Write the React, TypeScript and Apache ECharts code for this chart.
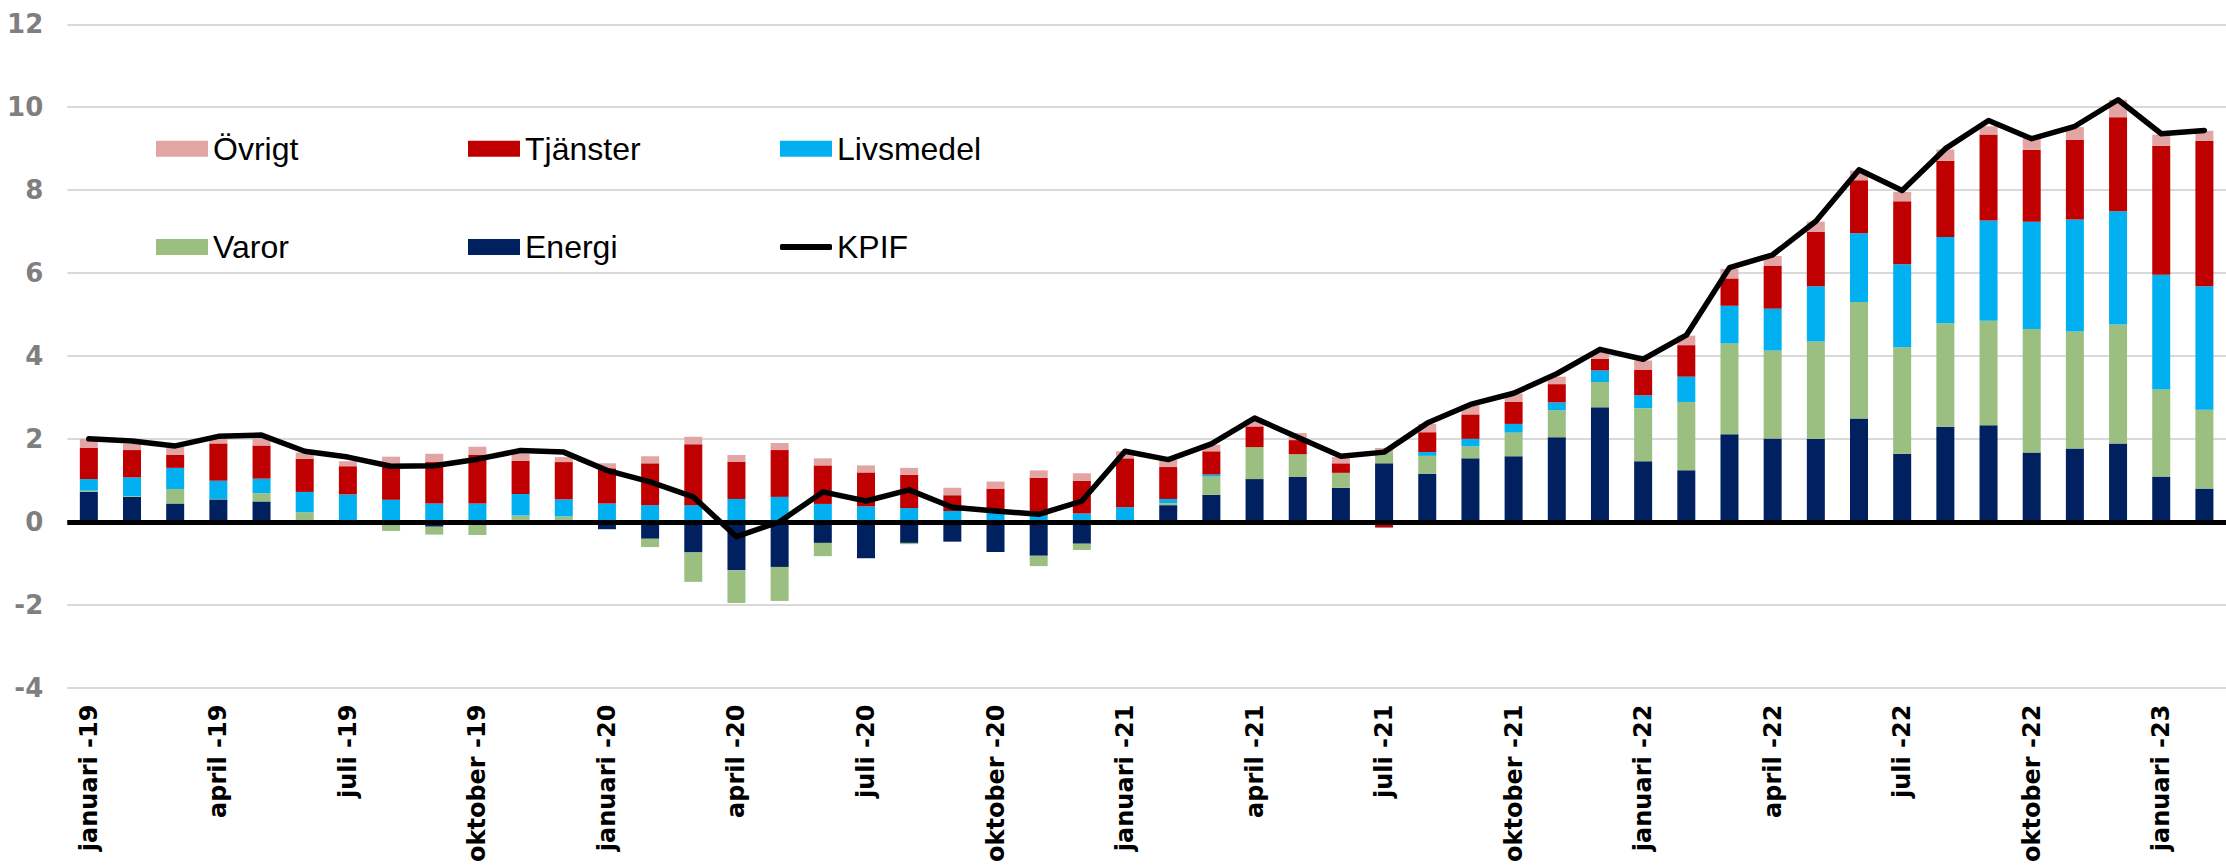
import React, { useEffect, useRef } from "react";
import * as echarts from "echarts";

const monthNames = ["januari", "februari", "mars", "april", "maj", "juni", "juli", "augusti", "september", "oktober", "november", "december"];
const years = ["19", "20", "21", "22", "23"];
const monthCount = 50;

const categories: string[] = [];
for (const y of years) {
  for (const m of monthNames) {
    if (categories.length < monthCount) categories.push(`${m} -${y}`);
  }
}

const energi = [0.72, 0.60, 0.44, 0.54, 0.49, 0.02, 0.00, -0.05, -0.12, -0.02, 0.05, 0.05,
  -0.18, -0.41, -0.74, -1.17, -1.09, -0.51, -0.88, -0.51, -0.48, -0.73, -0.82, -0.53,
  0.00, 0.40, 0.65, 1.03, 1.08, 0.82, 1.41, 1.16, 1.53, 1.58, 2.04, 2.76,
  1.46, 1.24, 2.11, 2.01, 2.00, 2.49, 1.64, 2.29, 2.33, 1.67, 1.77, 1.89,
  1.09, 0.80];
const varor = [0.03, 0.02, 0.35, 0.01, 0.20, 0.21, 0.04, -0.17, -0.19, -0.30, 0.10, 0.08,
  0.00, -0.20, -0.71, -0.79, -0.82, -0.32, 0.00, -0.03, 0.00, 0.00, -0.25, -0.15,
  0.00, 0.05, 0.44, 0.77, 0.55, 0.36, 0.27, 0.43, 0.29, 0.57, 0.65, 0.61,
  1.28, 1.65, 2.19, 2.12, 2.35, 2.81, 2.57, 2.50, 2.52, 2.98, 2.82, 2.87,
  2.10, 1.90];
const livsmedel = [0.28, 0.45, 0.51, 0.44, 0.35, 0.49, 0.62, 0.53, 0.44, 0.44, 0.52, 0.41,
  0.44, 0.40, 0.40, 0.55, 0.60, 0.43, 0.37, 0.33, 0.26, 0.25, 0.15, 0.20,
  0.35, 0.10, 0.05, 0.00, -0.08, 0.00, 0.00, 0.09, 0.18, 0.21, 0.19, 0.28,
  0.31, 0.61, 0.91, 1.01, 1.33, 1.66, 2.00, 2.08, 2.42, 2.59, 2.70, 2.73,
  2.77, 2.98];
const tjanster = [0.75, 0.66, 0.31, 0.90, 0.80, 0.80, 0.68, 0.87, 1.00, 1.18, 0.80, 0.90,
  0.85, 1.01, 1.47, 0.90, 1.13, 0.93, 0.82, 0.80, 0.38, 0.55, 0.91, 0.79,
  1.18, 0.77, 0.56, 0.50, 0.34, 0.23, -0.14, 0.48, 0.59, 0.53, 0.44, 0.28,
  0.62, 0.76, 0.66, 1.04, 1.31, 1.28, 1.52, 1.84, 2.07, 1.73, 1.92, 2.27,
  3.11, 3.51];
const ovrigt = [0.22, 0.15, 0.20, 0.12, 0.23, 0.15, 0.12, 0.17, 0.20, 0.19, 0.17, 0.12,
  0.12, 0.17, 0.18, 0.16, 0.17, 0.17, 0.17, 0.17, 0.18, 0.17, 0.18, 0.18,
  0.17, 0.17, 0.16, 0.17, 0.17, 0.15, 0.10, 0.20, 0.22, 0.20, 0.18, 0.17,
  0.22, 0.23, 0.23, 0.23, 0.25, 0.23, 0.23, 0.27, 0.20, 0.28, 0.31, 0.42,
  0.27, 0.24];
const kpif = [2.00, 1.95, 1.83, 2.06, 2.09, 1.70, 1.56, 1.34, 1.35, 1.51, 1.72, 1.68,
  1.24, 0.96, 0.60, -0.36, 0.00, 0.72, 0.50, 0.77, 0.35, 0.26, 0.18, 0.50,
  1.70, 1.50, 1.88, 2.50, 2.04, 1.58, 1.68, 2.38, 2.83, 3.10, 3.57, 4.16,
  3.92, 4.50, 6.13, 6.44, 7.25, 8.49, 7.99, 9.00, 9.68, 9.24, 9.54, 10.18,
  9.36, 9.44];

const yTicks = { min: -4, max: 12, interval: 2 };

const colors = {
  Energi: "#002060",
  Varor: "#9BBF81",
  Livsmedel: "#00B0F0",
  "Tjänster": "#C00000",
  "Övrigt": "#E3A4A4",
  KPIF: "#000000",
};

export default function App() {
  const ref = useRef<HTMLDivElement>(null);
  useEffect(() => {
    if (!ref.current) return;
    const chart = echarts.init(ref.current, undefined, { renderer: "svg" });
    const barSeries = (name: string, data: number[]) => ({
      name,
      type: "bar",
      stack: "total",
      data,
      barWidth: 18,
      itemStyle: { color: (colors as any)[name] },
      emphasis: { disabled: true },
    });
    const legendText = { fontFamily: "Liberation Sans, Arial, sans-serif", fontSize: 32, color: "#000" };
    const mkLegend = (name: string, left: number, top: number, isLine = false) => ({
      data: [isLine ? { name, icon: "roundRect" } : { name, icon: "rect" }],
      left,
      top,
      padding: 0,
      itemGap: 0,
      itemWidth: 52,
      itemHeight: isLine ? 6 : 16,
      selectedMode: false,
      textStyle: legendText,
      ...(isLine ? { itemStyle: { color: "#000" } } : {}),
    });
    const row1 = 132.7;
    const row2 = 231;
    chart.setOption({
      animation: false,
      backgroundColor: "#ffffff",
      grid: { left: 67.25, right: -16, top: 24.3, bottom: 175.8, containLabel: false },
      legend: [
        mkLegend("Övrigt", 156, row1),
        mkLegend("Tjänster", 468, row1),
        mkLegend("Livsmedel", 780, row1),
        mkLegend("Varor", 156, row2),
        mkLegend("Energi", 468, row2),
        mkLegend("KPIF", 780, row2, true),
      ],
      xAxis: {
        type: "category",
        data: categories,
        boundaryGap: true,
        axisLine: { show: false, onZero: false },
        axisTick: { show: false },
        axisLabel: {
          interval: 2,
          rotate: 90,
          margin: 17,
          fontFamily: "DejaVu Sans, sans-serif",
          fontWeight: "bold",
          fontSize: 24,
          color: "#000",
        },
        splitLine: { show: false },
      },
      yAxis: {
        type: "value",
        min: yTicks.min,
        max: yTicks.max,
        interval: yTicks.interval,
        axisLine: { show: false },
        axisTick: { show: false },
        axisLabel: {
          margin: 24,
          fontFamily: "DejaVu Sans, sans-serif",
          fontWeight: "bold",
          fontSize: 26,
          color: "#7F7F7F",
        },
        splitLine: { lineStyle: { color: "#D9D9D9", width: 2 } },
      },
      series: [
        barSeries("Energi", energi),
        barSeries("Varor", varor),
        barSeries("Livsmedel", livsmedel),
        barSeries("Tjänster", tjanster),
        barSeries("Övrigt", ovrigt),
        {
          name: "KPIF",
          type: "line",
          data: kpif,
          symbol: "none",
          z: 5,
          lineStyle: { color: "#000", width: 5.5, cap: "round", join: "round" },
          itemStyle: { color: "#000" },
          emphasis: { disabled: true },
          markLine: {
            silent: true,
            symbol: "none",
            label: { show: false },
            lineStyle: { color: "#000", width: 5, type: "solid" },
            data: [{ yAxis: 0 }],
          },
        },
      ],
    });
    return () => chart.dispose();
  }, []);
  return (
    <div style={{ position: "fixed", left: 0, top: 0, width: 2226, height: 865, overflow: "hidden", background: "#fff" }}>
      <div ref={ref} style={{ width: 2226, height: 865 }} />
    </div>
  );
}
